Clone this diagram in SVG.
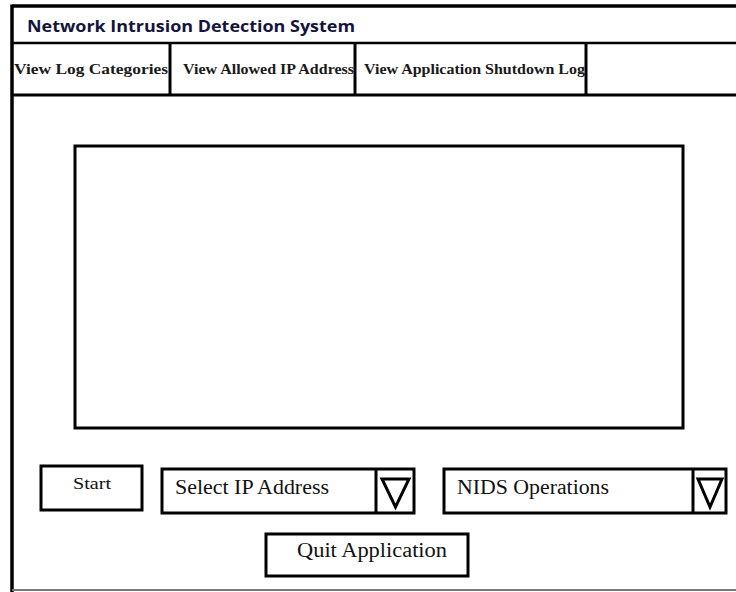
<svg xmlns="http://www.w3.org/2000/svg" width="736" height="592" viewBox="0 0 736 592">
<style>
.box{fill:#fff;stroke:#000;stroke-width:3}
.tab{font-family:"Liberation Serif",serif;font-weight:bold;font-size:14px;fill:#1a1a1a}
.lbl{font-family:"Liberation Serif",serif;font-size:20px;fill:#111}
</style>
<rect width="736" height="592" fill="#fff"/>
<g id="window">
<line x1="12" y1="6" x2="736" y2="6" stroke="#000" stroke-width="3.5"/>
<line x1="12" y1="4.5" x2="12" y2="592" stroke="#000" stroke-width="3.5"/>
<line x1="12" y1="590" x2="736" y2="590" stroke="#777" stroke-width="2"/>
<line x1="12" y1="43" x2="736" y2="43" stroke="#000" stroke-width="2.5"/>
<line x1="12" y1="95" x2="736" y2="95" stroke="#000" stroke-width="3"/>
<text x="27" y="32" font-family="'Open Sans','Liberation Sans',sans-serif" font-weight="bold" font-size="16" fill="#14143c" textLength="328" lengthAdjust="spacingAndGlyphs">Network Intrusion Detection System</text>
</g>
<g id="tab-log-categories">
<line x1="170" y1="43" x2="170" y2="95" stroke="#000" stroke-width="3"/>
<text class="tab" x="14" y="74" textLength="154" lengthAdjust="spacingAndGlyphs">View Log Categories</text>
</g>
<g id="tab-allowed-ip">
<line x1="355" y1="43" x2="355" y2="95" stroke="#000" stroke-width="3"/>
<text class="tab" x="183" y="74" textLength="171" lengthAdjust="spacingAndGlyphs">View Allowed IP Address</text>
</g>
<g id="tab-shutdown-log">
<line x1="586" y1="43" x2="586" y2="95" stroke="#000" stroke-width="3"/>
<text class="tab" x="364" y="74" textLength="221" lengthAdjust="spacingAndGlyphs">View Application Shutdown Log</text>
</g>
<g id="display-area">
<rect class="box" x="75" y="146" width="608" height="282"/>
</g>
<g id="start-button">
<rect class="box" x="41" y="466" width="101" height="44"/>
<text x="73" y="489" font-family="'Liberation Serif',serif" font-size="17" fill="#111" textLength="38" lengthAdjust="spacingAndGlyphs">Start</text>
</g>
<g id="select-ip">
<rect class="box" x="162" y="469" width="252" height="44"/>
<line x1="376" y1="469" x2="376" y2="513" stroke="#000" stroke-width="3"/>
<polygon points="382,479 409,479 395.5,507" fill="none" stroke="#000" stroke-width="3"/>
<text class="lbl" x="175" y="494" textLength="154" lengthAdjust="spacingAndGlyphs">Select IP Address</text>
</g>
<g id="nids-operations">
<rect class="box" x="444" y="469" width="282" height="44"/>
<line x1="693" y1="469" x2="693" y2="513" stroke="#000" stroke-width="3"/>
<polygon points="698,479 722,479 710,507" fill="none" stroke="#000" stroke-width="3"/>
<text class="lbl" x="457" y="494" textLength="152" lengthAdjust="spacingAndGlyphs">NIDS Operations</text>
</g>
<g id="quit-button">
<rect class="box" x="266" y="534" width="202" height="42"/>
<text class="lbl" x="297" y="557" textLength="150" lengthAdjust="spacingAndGlyphs">Quit Application</text>
</g>
<g id="connectors"></g>
</svg>
